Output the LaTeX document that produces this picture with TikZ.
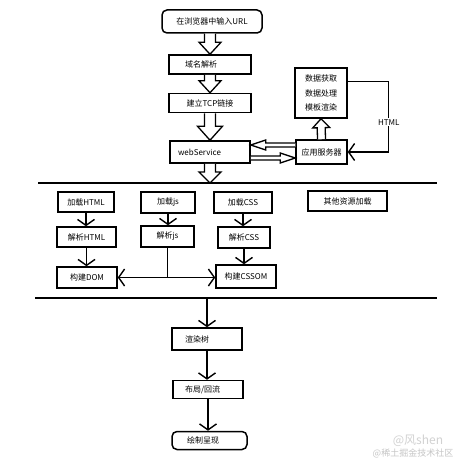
\documentclass[tikz,border=0pt]{standalone}
\usepackage{fontspec}
\newfontfamily\cjk{Noto Sans CJK SC}
\usetikzlibrary{arrows.meta, calc}
\tikzset{
  box/.style={draw, line width=1.5pt, inner sep=0pt, minimum height=19pt,
              align=center, font=\cjk\fontsize{8}{11}\selectfont},
  lbox/.style 2 args={box, inner xsep=#1, text width=#2, align=left},
  rbox/.style={rounded corners=5pt},
  flow/.style={line width=1.4pt, -{Straight Barb[length=6pt, width=17pt]}},
  fat/.style={line width=1.3pt, line join=miter, fill=white},
  sep/.style={line width=1.2pt},
}
\newcommand{\fatarrow}[5]{%
  \coordinate (fa) at (#1);
  \coordinate (fb) at (#2);
  \coordinate (fh) at ($(fb)!#5!(fa)$);
  \draw[fat] ($(fa)!#3!90:(fb)$) -- ($(fh)!#3!90:(fb)$) -- ($(fh)!#4!90:(fb)$) -- (fb)
    -- ($(fh)!#4!-90:(fb)$) -- ($(fh)!#3!-90:(fb)$) -- ($(fa)!#3!-90:(fb)$);
}
\begin{document}
\begin{tikzpicture}[x=1pt, y=-1pt]
  \fill[white] (0,0) rectangle (460,460);
  \useasboundingbox (0,0) rectangle (460,460);

  \node (url) [box, rbox, minimum width=100pt, minimum height=23pt] at (212,21.5) {在浏览器中输入URL};
  \node (dns) [lbox={16pt}{50pt}, minimum height=19pt] at (210,64.5) {域名解析};
  \node (tcp) [box, minimum width=82pt] at (210,103) {建立TCP链接};
  \node (web) [lbox={8pt}{64pt}, minimum height=22pt] at (210,152) {webService};
  \node (app) [box, minimum width=51pt, minimum height=24pt] at (321.5,152) {应用服务器};
  \node (data) [box, minimum width=52pt, minimum height=50pt,
                font=\cjk\fontsize{8}{14.5}\selectfont] at (321,93) {数据获取\\数据处理\\模板渲染};

  \fatarrow{url.south -| dns.north}{dns.north}{5.5pt}{11pt}{12pt}
  \fatarrow{dns.south}{tcp.north}{5.5pt}{11pt}{12pt}
  \fatarrow{tcp.south}{web.north}{5.5pt}{12.5pt}{14pt}
  \fatarrow{app.north}{data.south}{4pt}{8.5pt}{9pt}
  \fatarrow{$(app.west)+(0,-7)$}{$(web.east)+(0,-7)$}{2pt}{5pt}{15pt}
  \fatarrow{$(web.east)+(0,6)$}{$(app.west)+(0,6)$}{2pt}{5pt}{15pt}

  \coordinate (htmlturn) at ($(data.north east)+(41,14)$);
  \draw[flow] ($(data.north east)+(0,14)$) -- (htmlturn)
    |- node[pos=0.29, fill=white, inner sep=1pt, font=\cjk\fontsize{8}{10}\selectfont] {HTML} (app.east);

  \coordinate (s1l) at (38,183);
  \coordinate (s1r) at (437,183);
  \draw[sep] (s1l) -- (s1r);
  \fatarrow{web.south}{web.south |- s1l}{5.5pt}{11pt}{11pt}

  \node (lhtml) [box, minimum width=56pt, minimum height=20pt] at (86,202) {加载HTML};
  \node (phtml) [box, minimum width=59pt, minimum height=20pt] at (86.5,237) {解析HTML};
  \node (dom) [box, minimum width=60pt, minimum height=21pt] at (87,277.5) {构建DOM};
  \node (ljs) [box, minimum width=54pt, minimum height=21pt] at (168,202.5) {加载js};
  \node (pjs) [box, minimum width=53pt, minimum height=21pt] at (167.5,236.5) {解析js};
  \node (lcss) [box, minimum width=58pt, minimum height=21pt] at (243,202.5) {加载CSS};
  \node (pcss) [box, minimum width=52pt, minimum height=21pt] at (244,237.5) {解析CSS};
  \node (cssom) [box, minimum width=60pt, minimum height=23pt] at (246,276.5) {构建CSSOM};
  \node (other) [box, minimum width=79pt, minimum height=20pt] at (347.5,201) {其他资源加载};

  \draw[flow] (lhtml.south) -- (lhtml.south |- phtml.north);
  \draw[flow] (phtml.south) -- (phtml.south |- dom.north);
  \draw[flow] (ljs.south) -- (ljs.south |- pjs.north);
  \draw[flow] (lcss.south) -- (lcss.south |- pcss.north);
  \draw[flow] (pcss.south) -- (pcss.south |- cssom.north);
  \coordinate (jsjoin) at (pjs.south |- dom.east);
  \draw[flow] (pjs.south) -- (jsjoin) -- (dom.east);
  \draw[flow] (jsjoin) -- (jsjoin -| cssom.west);

  \coordinate (s2l) at (35,298);
  \coordinate (s2r) at (437,298);
  \draw[sep] (s2l) -- (s2r);

  \node (render) [lbox={13pt}{44pt}, minimum height=22pt] at (207,339) {渲染树};
  \node (layout) [lbox={12pt}{46pt}, minimum height=18pt] at (208,389.5) {布局/回流};
  \node (paint) [lbox={15pt}{45pt}, rbox, minimum height=18pt] at (209.5,440.5) {绘制呈现};

  \draw[flow] (render.north |- s2l) -- (render.north);
  \draw[flow] (render.south) -- (render.south |- layout.north);
  \draw[flow] (layout.south) -- (layout.south |- paint.north);

  \node (wmname) [text=gray!35, font=\cjk\fontsize{12}{12}\selectfont] at (418,441) {@风shen};
  \node (wmsite) [text=gray!45, font=\cjk\fontsize{9}{9}\selectfont] at (413,453) {@稀土掘金技术社区};
\end{tikzpicture}
\end{document}
